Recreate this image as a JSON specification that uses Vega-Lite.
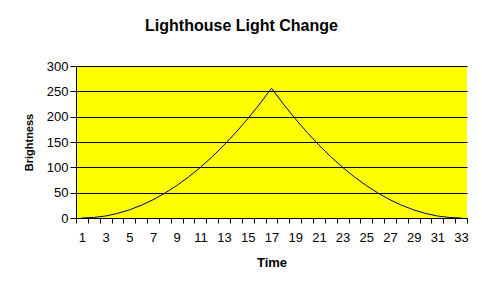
{
  "$schema": "https://vega.github.io/schema/vega-lite/v6.json",
  "autosize": "none",
  "width": 391,
  "height": 152,
  "padding": {"left": 76, "top": 66, "right": 15, "bottom": 72},
  "background": "white",
  "title": {
    "text": "Lighthouse Light Change",
    "font": "Liberation Sans",
    "fontSize": 16,
    "fontWeight": "bold",
    "color": "black",
    "anchor": "middle",
    "dx": -30,
    "offset": 26
  },
  "config": {
    "view": {"fill": "#FFFF00", "stroke": null},
    "axis": {
      "labelFont": "Liberation Sans",
      "labelFontSize": 13,
      "labelColor": "black",
      "titleFont": "Liberation Sans",
      "titleFontSize": 13,
      "titleFontWeight": "bold",
      "titleColor": "black",
      "domainColor": "black",
      "tickColor": "black",
      "gridColor": "black",
      "gridOpacity": 1
    }
  },
  "data": {
    "values": [
      {"Time": 1, "Brightness": 0},
      {"Time": 2, "Brightness": 1},
      {"Time": 3, "Brightness": 4},
      {"Time": 4, "Brightness": 9},
      {"Time": 5, "Brightness": 16},
      {"Time": 6, "Brightness": 25},
      {"Time": 7, "Brightness": 36},
      {"Time": 8, "Brightness": 49},
      {"Time": 9, "Brightness": 64},
      {"Time": 10, "Brightness": 81},
      {"Time": 11, "Brightness": 100},
      {"Time": 12, "Brightness": 121},
      {"Time": 13, "Brightness": 144},
      {"Time": 14, "Brightness": 169},
      {"Time": 15, "Brightness": 196},
      {"Time": 16, "Brightness": 225},
      {"Time": 17, "Brightness": 256},
      {"Time": 18, "Brightness": 225},
      {"Time": 19, "Brightness": 196},
      {"Time": 20, "Brightness": 169},
      {"Time": 21, "Brightness": 144},
      {"Time": 22, "Brightness": 121},
      {"Time": 23, "Brightness": 100},
      {"Time": 24, "Brightness": 81},
      {"Time": 25, "Brightness": 64},
      {"Time": 26, "Brightness": 49},
      {"Time": 27, "Brightness": 36},
      {"Time": 28, "Brightness": 25},
      {"Time": 29, "Brightness": 16},
      {"Time": 30, "Brightness": 9},
      {"Time": 31, "Brightness": 4},
      {"Time": 32, "Brightness": 1},
      {"Time": 33, "Brightness": 0}
    ]
  },
  "mark": {"type": "line", "color": "#000080", "strokeWidth": 1},
  "encoding": {
    "x": {
      "field": "Time",
      "type": "ordinal",
      "sort": null,
      "scale": {"paddingInner": 0, "paddingOuter": 0},
      "axis": {
        "title": "Time",
        "labelAngle": 0,
        "tickBand": "extent",
        "tickSize": 5,
        "labelPadding": 8,
        "titlePadding": 12,
        "labelExpr": "datum.value % 2 == 1 ? datum.label : ''",
        "grid": false
      }
    },
    "y": {
      "field": "Brightness",
      "type": "quantitative",
      "scale": {"domain": [0, 300]},
      "axis": {
        "title": "Brightness",
        "values": [0, 50, 100, 150, 200, 250, 300],
        "tickSize": 6,
        "labelPadding": 2,
        "titlePadding": 12,
        "titleFontSize": 11,
        "grid": true
      }
    }
  }
}
